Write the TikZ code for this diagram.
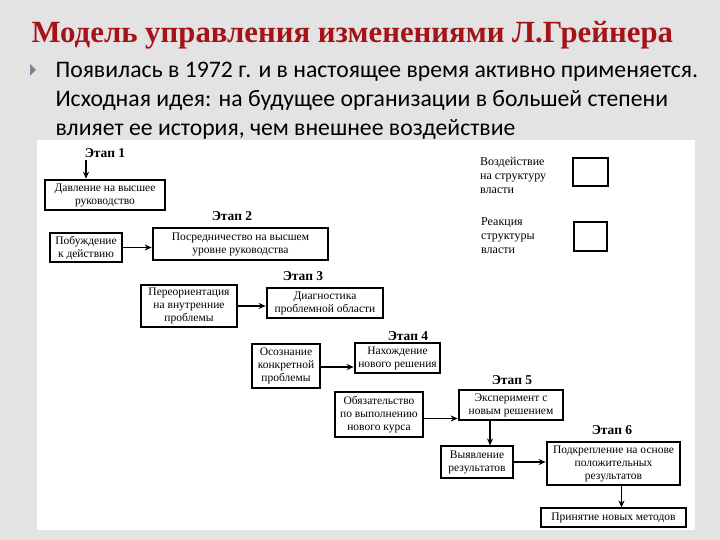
\documentclass[tikz,border=0pt]{standalone}
\usepackage{fontspec}
\setmainfont{Liberation Serif}
\newfontfamily\slidefont{Carlito}
\usetikzlibrary{arrows.meta}

\definecolor{titlered}{RGB}{165,18,24}
\definecolor{slidegray}{RGB}{227,227,227}
\definecolor{bulletgray}{RGB}{128,128,150}

\tikzset{
  stagebox/.style={draw, line width=2.6pt, align=center, inner sep=0pt,
    font=\fontsize{11.5}{13}\selectfont},
  causebox/.style={draw, line width=1.1pt, align=center, inner sep=0pt,
    font=\fontsize{11.5}{13}\selectfont},
  stagelabel/.style={font=\bfseries\fontsize{13.5}{14}\selectfont},
  introline/.style={anchor=base west, font=\slidefont\fontsize{23.7}{29}\selectfont},
  legendtext/.style={anchor=west, align=left, inner sep=0pt, font=\fontsize{12}{14}\selectfont},
  flow/.style={-{Stealth[length=7pt,width=6pt]}, line width=1.3pt},
}

\begin{document}
\begin{tikzpicture}[x=1pt,y=-1pt]
		% slide background and picture area
		\fill[slidegray] (0,0) rectangle (720,540);
		\useasboundingbox (0,0) rectangle (720,540);
		\fill[white] (37,140) rectangle (695,530);
		% title and text
		\node[anchor=base west, text=titlered, font=\bfseries\fontsize{30.8}{34}\selectfont] (title) at (28,43) {Модель управления изменениями Л.Грейнера};
		\fill[bulletgray] (30,64) -- (36,70) -- (30,76) -- cycle;
		\node[introline] (intro1) at (52,78) {Появилась в 1972 г. и в настоящее время активно применяется.};
		\node[introline] (intro2) at (52,107) {Исходная идея: на будущее организации в большей степени};
		\node[introline] (intro3) at (52,136) {влияет ее история, чем внешнее воздействие};
		% legend
		\node[legendtext] (leg1) at (480,175) {Воздействие\\на структуру\\власти};
		\node[stagebox, minimum width=35pt, minimum height=28pt] (legbox1) at (590.5,172) {};
		\node[legendtext] (leg2) at (481,236) {Реакция\\структуры\\власти};
		\node[causebox, minimum width=33pt, minimum height=29pt] (legbox2) at (590.5,236.5) {};
		% stage 1
		\node[stagelabel] (e1) at (105,153) {Этап 1};
		\node[stagebox, minimum width=120pt, minimum height=30pt] (b1) at (105,195) {Давление на высшее\\руководство};
		\coordinate (e1top) at (86,160);
		\draw[flow] (e1top) -- (e1top |- b1.north);
		% stage 2
		\node[stagelabel] (e2) at (232,216) {Этап 2};
		\node[causebox, minimum width=72pt, minimum height=29pt] (p2) at (86,247.5) {Побуждение\\к действию};
		\node[stagebox, minimum width=175pt, minimum height=32pt] (b2) at (240.5,244) {Посредничество на высшем\\уровне руководства};
		\draw[flow] (p2.east) -- (p2.east -| b2.west);
		% stage 3
		\node[stagelabel] (e3) at (303,276) {Этап 3};
		\node[causebox, minimum width=96pt, minimum height=42pt] (p3) at (189,306) {Переориентация\\на внутренние\\проблемы};
		\node[stagebox, minimum width=116pt, minimum height=30pt] (b3) at (325,303) {Диагностика\\проблемной области};
		\draw[flow] (p3.east) -- (p3.east -| b3.west);
		% stage 4
		\node[stagelabel] (e4) at (408,336) {Этап 4};
		\node[causebox, minimum width=68pt, minimum height=44pt] (p4) at (286,366) {Осознание\\конкретной\\проблемы};
		\node[stagebox, minimum width=85pt, minimum height=30pt] (b4) at (397.5,358) {Нахождение\\нового решения};
		\draw[flow] ([yshift=-1pt]p4.east) -- ([yshift=-1pt]p4.east -| b4.west);
		% stage 5
		\node[stagelabel] (e5) at (512,380) {Этап 5};
		\node[causebox, minimum width=88pt, minimum height=45pt] (p5) at (379,414.5) {Обязательство\\по выполнению\\нового курса};
		\node[stagebox, minimum width=104pt, minimum height=30pt] (b5) at (511,405) {Эксперимент с\\новым решением};
		\draw[flow] ([yshift=-4pt]p5.east) -- ([yshift=-4pt]p5.east -| b5.west);
		\node[causebox, minimum width=72pt, minimum height=32pt] (r5) at (477,462) {Выявление\\результатов};
		\draw[flow] ([xshift=-21pt]b5.south) -- ([xshift=-21pt]b5.south |- r5.north);
		% stage 6
		\node[stagelabel] (e6) at (612,430) {Этап 6};
		\node[stagebox, minimum width=133pt, minimum height=43pt] (b6) at (613.5,463.5) {Подкрепление на основе\\положительных\\результатов};
		\draw[flow] (r5.east) -- (r5.east -| b6.west);
		\node[causebox, minimum width=145pt, minimum height=19pt] (r6) at (613.5,517.5) {Принятие новых методов};
		\draw[flow] ([xshift=8pt]b6.south) -- ([xshift=8pt]b6.south |- r6.north);
\end{tikzpicture}
\end{document}
